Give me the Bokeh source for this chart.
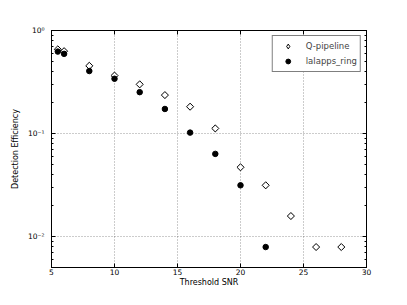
import math
from bokeh.plotting import figure
from bokeh.models import (ColumnDataSource, FixedTicker, LinearAxis, LogAxis, Legend, LegendItem,
                          CustomJSTickFormatter, LogTicker, Range1d)
from bokeh.embed import file_html
from bokeh.resources import INLINE

snr_q = [5.5, 6, 8, 10, 12, 14, 16, 18, 20, 22, 24, 26, 28]
eff_q = [0.656, 0.63, 0.454, 0.365, 0.30, 0.236, 0.182, 0.112, 0.047, 0.0314, 0.0158, 0.0079, 0.0079]
snr_l = [5.5, 6, 8, 10, 12, 14, 16, 18, 20, 22]
eff_l = [0.624, 0.593, 0.404, 0.34, 0.252, 0.173, 0.102, 0.0634, 0.0314, 0.0079]
x_ticks = [5, 10, 15, 20, 25, 30]
labels = ["Q-pipeline", "lalapps_ring"]

FONT = "DejaVu Sans"

p = figure(width=391, height=289, y_axis_type="log",
           x_range=Range1d(5, 30), y_range=Range1d(0.005, 1),
           output_backend="svg", toolbar_location=None,
           min_border_left=51, min_border_right=25, min_border_top=30, min_border_bottom=21)

p.outline_line_color = "black"
p.outline_line_width = 1

sq = ColumnDataSource(dict(x=snr_q, y=eff_q))
sl = ColumnDataSource(dict(x=snr_l, y=eff_l))
# diamond renderer (used for the legend swatch), hidden beneath the open markers
r_q_leg = p.scatter("x", "y", source=sq, marker="diamond", size=6,
                    fill_color="white", line_color="black", line_width=1)
r_q = p.scatter("x", "y", source=sq, marker="square", size=5, angle=math.pi / 4,
                fill_color="white", line_color="black", line_width=1)
r_l = p.scatter("x", "y", source=sl, marker="circle", size=5.5,
                fill_color="black", line_color="black")

sup_js = """
const sup = {'-':'\u207b','0':'\u2070','1':'\u00b9','2':'\u00b2','3':'\u00b3','4':'\u2074','5':'\u2075','6':'\u2076','7':'\u2077','8':'\u2078','9':'\u2079'};
const e = Math.round(Math.log10(tick));
return '10' + String(e).split('').map(c => sup[c]).join('');
"""

xa = p.xaxis[0]
xa.ticker = FixedTicker(ticks=x_ticks)
ya = p.yaxis[0]
ya.ticker = LogTicker(num_minor_ticks=10)
ya.formatter = CustomJSTickFormatter(code=sup_js)

for ax in (xa, ya):
    ax.major_tick_in = 4
    ax.major_tick_out = 0
    ax.minor_tick_in = 2
    ax.minor_tick_out = 0
    ax.axis_line_color = "black"
    ax.major_tick_line_color = "black"
    ax.minor_tick_line_color = "black"
    ax.major_label_text_font = FONT
    ax.major_label_text_font_size = "7.5px"
    ax.major_label_text_color = "black"
    ax.axis_label_text_font = FONT
    ax.axis_label_text_font_size = "8px"
    ax.axis_label_text_font_style = "normal"
    ax.axis_label_text_color = "black"
xa.minor_tick_in = 0
xa.major_label_standoff = 1
xa.axis_label_standoff = 0
ya.major_label_standoff = 7
ya.axis_label_standoff = 5
xa.axis_label = "Threshold SNR"
ya.axis_label = "Detection Efficiency"

top = LinearAxis(ticker=FixedTicker(ticks=x_ticks),
                 formatter=CustomJSTickFormatter(code="return ''"))
right = LogAxis(ticker=LogTicker(num_minor_ticks=10),
                formatter=CustomJSTickFormatter(code="return ''"))
for ax in (top, right):
    ax.major_tick_in = 4
    ax.major_tick_out = 0
    ax.minor_tick_in = 2
    ax.minor_tick_out = 0
    ax.major_label_text_font_size = "0px"
    ax.major_label_standoff = 0
    ax.axis_line_color = "black"
top.minor_tick_in = 0
p.add_layout(top, "above")
p.add_layout(right, "right")

p.xgrid.ticker = FixedTicker(ticks=x_ticks)
for g in (p.xgrid[0], p.ygrid[0]):
    g.grid_line_color = "black"
    g.grid_line_alpha = 0.4
    g.grid_line_width = 1
    g.grid_line_dash = "1 2"
p.ygrid[0].minor_grid_line_color = None

legend = Legend(items=[LegendItem(label=labels[0], renderers=[r_q_leg]),
                       LegendItem(label=labels[1], renderers=[r_l])],
                location="top_right", margin=5, padding=3, spacing=1,
                glyph_width=24, glyph_height=12, label_height=14, label_standoff=6,
                label_text_font=FONT, label_text_font_size="8.5px",
                border_line_color="black", border_line_width=1,
                background_fill_color="white", background_fill_alpha=1)
p.add_layout(legend, "center")

open("out.html", "w").write(file_html(p, INLINE))
